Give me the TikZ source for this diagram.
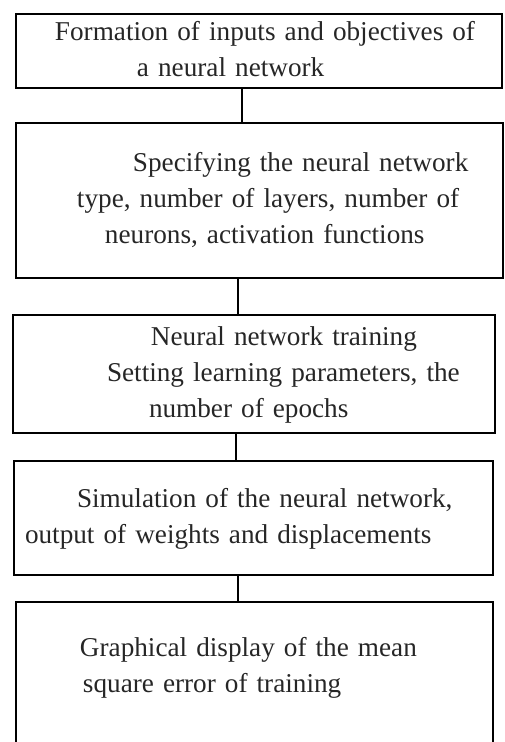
\documentclass[tikz,border=0pt]{standalone}
\usepackage{fontspec}
\setmainfont{Liberation Serif}
\begin{document}
\begin{tikzpicture}[x=1pt, y=-1pt,
    block/.style = {draw, line width=2.4pt, outer sep=0pt, inner sep=0pt, anchor=north west, align=left, text=black!85, font=\fontsize{27.2}{36}\selectfont},
    link/.style = {line width=2.4pt}]
    \useasboundingbox (0,0) rectangle (504,742);
    \clip (0,0) rectangle (504,742);

    \node[block, text width=486pt, minimum width=486pt, minimum height=74pt] (b1) at (16, 14)
        {\hspace*{39pt}\strut Formation of inputs and objectives of\\
         \hspace*{121pt}\strut a neural network};
    \node[block, text width=487pt, minimum width=487pt, minimum height=155pt] (b2) at (16, 123)
        {\hspace*{117pt}\strut Specifying the neural network\\
         \hspace*{61pt}\strut type, number of layers, number of\\
         \hspace*{89pt}\strut neurons, activation functions};
    \node[block, text width=482pt, minimum width=482pt, minimum height=118pt] (b3) at (13, 315)
        {\hspace*{138pt}\strut Neural network training\\
         \hspace*{94pt}\strut Setting learning parameters, the\\
         \hspace*{136pt}\strut number of epochs};
    \node[block, text width=479pt, minimum width=479pt, minimum height=114pt] (b4) at (14, 461)
        {\hspace*{63pt}\strut Simulation of the neural network,\\
         \hspace*{11pt}\strut output of weights and displacements};
    \node[block, text width=477pt, minimum width=477pt, minimum height=166pt] (b5) at (16, 602)
        {\hspace*{64pt}\strut Graphical display of the mean\\
         \hspace*{67pt}\strut square error of training\\
         \strut};

    \draw [-, link] ([xshift=226pt]b1.south west) -- ([xshift=226pt]b2.north west);
    \draw [-, link] ([xshift=222pt]b2.south west) -- ([xshift=225pt]b3.north west);
    \draw [-, link] ([xshift=223pt]b3.south west) -- ([xshift=222pt]b4.north west);
    \draw [-, link] ([xshift=224pt]b4.south west) -- ([xshift=222pt]b5.north west);
\end{tikzpicture}
\end{document}
